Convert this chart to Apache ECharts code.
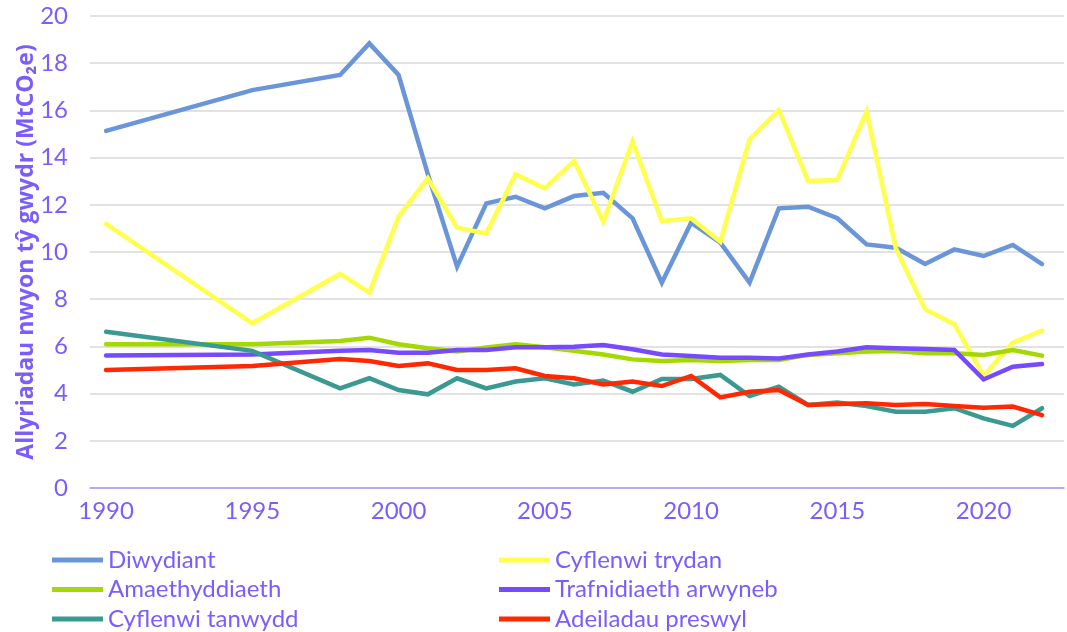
<!DOCTYPE html>
<html lang="cy">
<head>
<meta charset="utf-8">
<title>Allyriadau nwyon tŷ gwydr</title>
<script src="https://cdn.jsdelivr.net/npm/echarts@6/dist/echarts.min.js"></script>
<style>
  html, body { margin: 0; padding: 0; background: #fff; }
  #main { width: 1067px; height: 632px; }
</style>
</head>
<body>
<div id="main"></div>
<script type="text/javascript">
// blynyddoedd (x)
let years = [1990, 1995, 1998, 1999, 2000, 2001, 2002, 2003, 2004, 2005, 2006, 2007, 2008, 2009,
             2010, 2011, 2012, 2013, 2014, 2015, 2016, 2017, 2018, 2019, 2020, 2021, 2022];
let yearLabels = [1990, 1995, 2000, 2005, 2010, 2015, 2020];

// gwerthoedd MtCO2e, wedi'u darllen o'r llun
let diwydiant = [15.13, 16.86, 17.50, 18.84, 17.50, 13.3, 9.38, 12.06, 12.34, 11.85, 12.37, 12.51, 11.43, 8.70,
                 11.24, 10.40, 8.70, 11.85, 11.92, 11.43, 10.32, 10.18, 9.49, 10.11, 9.83, 10.30, 9.49];
let cyflenwiTrydan = [11.19, 6.98, 9.07, 8.28, 11.50, 13.12, 11.03, 10.79, 13.29, 12.70, 13.86, 11.29, 14.68, 11.31,
                      11.43, 10.44, 14.77, 16.02, 13.01, 13.05, 15.95, 10.16, 7.57, 6.94, 4.75, 6.16, 6.67];
let amaethyddiaeth = [6.09, 6.09, 6.23, 6.37, 6.09, 5.92, 5.78, 5.95, 6.09, 5.96, 5.82, 5.66, 5.45, 5.38,
                      5.42, 5.38, 5.42, 5.42, 5.64, 5.71, 5.78, 5.81, 5.71, 5.71, 5.64, 5.85, 5.61];
let trafnidiaeth = [5.61, 5.66, 5.82, 5.85, 5.73, 5.73, 5.85, 5.85, 5.96, 5.96, 5.99, 6.06, 5.88, 5.66,
                    5.59, 5.52, 5.52, 5.49, 5.66, 5.78, 5.96, 5.92, 5.89, 5.85, 4.60, 5.14, 5.25];
let cyflenwiTanwydd = [6.62, 5.81, 4.22, 4.65, 4.15, 3.97, 4.65, 4.22, 4.51, 4.65, 4.39, 4.55, 4.08, 4.62,
                       4.62, 4.79, 3.90, 4.29, 3.52, 3.62, 3.47, 3.23, 3.23, 3.38, 2.95, 2.63, 3.38];
let adeiladauPreswyl = [5.00, 5.17, 5.47, 5.38, 5.17, 5.28, 5.00, 5.00, 5.07, 4.75, 4.65, 4.39, 4.51, 4.32,
                        4.75, 3.84, 4.08, 4.15, 3.52, 3.56, 3.59, 3.52, 3.56, 3.47, 3.40, 3.45, 3.09];

let seriesDefs = [
    { name: 'Diwydiant', data: diwydiant, color: '#6a96d9' },
    { name: 'Cyflenwi trydan', data: cyflenwiTrydan, color: '#ffff4d' },
    { name: 'Amaethyddiaeth', data: amaethyddiaeth, color: '#a3d800' },
    { name: 'Trafnidiaeth arwyneb', data: trafnidiaeth, color: '#7749ff' },
    { name: 'Cyflenwi tanwydd', data: cyflenwiTanwydd, color: '#3a9a91' },
    { name: 'Adeiladau preswyl', data: adeiladauPreswyl, color: '#ff2800' }
];

const textColor = '#7b5cff';
const fontFamily = 'Lato, "Noto Sans", sans-serif';

let chart = echarts.init(document.getElementById('main'));

let legendCommon = {
    orient: 'vertical',
    top: 543,
    height: 90,
    icon: 'rect',
    itemWidth: 51,
    itemHeight: 5,
    itemGap: 5.5,
    textStyle: { color: textColor, fontSize: 24, lineHeight: 22, fontFamily: fontFamily }
};

let option = {
    animation: false,
    backgroundColor: '#ffffff',
    grid: { left: 90, right: 3, top: 16, bottom: 144, containLabel: false },
    legend: [
        Object.assign({ left: 47, data: ['Diwydiant', 'Amaethyddiaeth', 'Cyflenwi tanwydd'] }, legendCommon),
        Object.assign({ left: 494, data: ['Cyflenwi trydan', 'Trafnidiaeth arwyneb', 'Adeiladau preswyl'] }, legendCommon)
    ],
    xAxis: {
        type: 'value',
        min: 1989.45,
        max: 2022.75,
        axisLine: { show: true, lineStyle: { color: '#a995ff', width: 1.5 } },
        axisTick: { show: false },
        splitLine: { show: false },
        axisLabel: {
            customValues: yearLabels,
            color: textColor,
            fontSize: 24,
            fontFamily: fontFamily,
            margin: 11,
            formatter: (v) => String(v)
        }
    },
    yAxis: {
        type: 'value',
        min: 0,
        max: 20,
        interval: 2,
        name: 'Allyriadau nwyon tŷ gwydr (MtCO₂e)',
        nameLocation: 'middle',
        nameGap: 52,
        nameMoveOverlap: false,
        nameTextStyle: { color: textColor, fontSize: 23, fontWeight: 'bold', fontFamily: '"Open Sans", Lato, sans-serif' },
        axisLine: { show: false },
        axisTick: { show: false },
        splitLine: { lineStyle: { color: '#d9d9d9', width: 1.5 } },
        axisLabel: { color: textColor, fontSize: 24, fontFamily: fontFamily, margin: 22 }
    },
    series: seriesDefs.map((s) => ({
        name: s.name,
        type: 'line',
        data: years.map((y, i) => [y, s.data[i]]),
        showSymbol: false,
        symbol: 'none',
        color: s.color,
        lineStyle: { color: s.color, width: 4.5, cap: 'round', join: 'miter' }
    }))
};

chart.setOption(option);
</script>
</body>
</html>
